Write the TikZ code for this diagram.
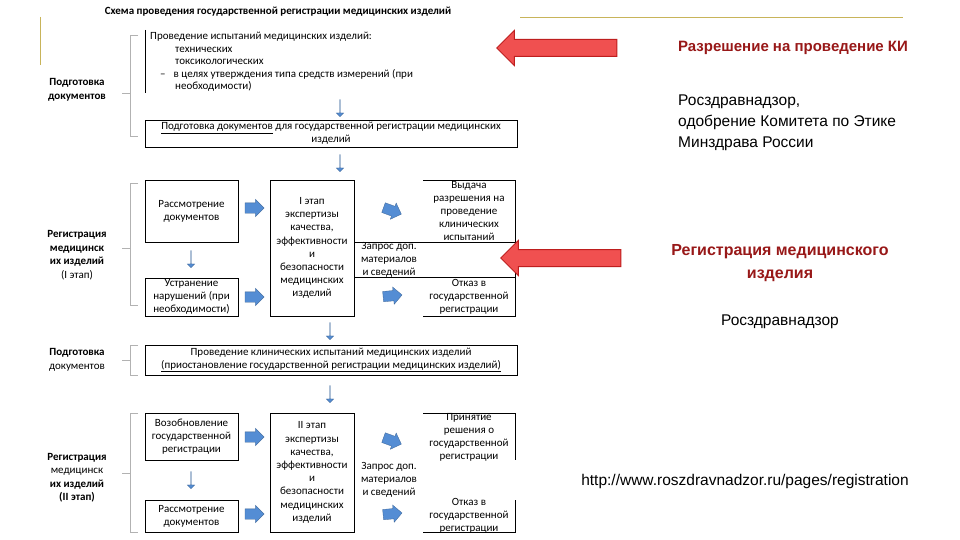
\documentclass[tikz,border=0pt]{standalone}
\usepackage{fontspec}
\setmainfont{Carlito}
\newfontfamily\arial{Liberation Sans}
\usetikzlibrary{shapes.arrows}
\definecolor{gold}{RGB}{200,180,90}
\definecolor{blu}{RGB}{84,141,212}
\definecolor{redf}{RGB}{240,80,80}
\definecolor{redd}{RGB}{190,30,30}
\begin{document}
\begin{tikzpicture}[x=1pt,y=-1pt,
  bx/.style={draw,line width=0.8pt,align=center,font=\fontsize{11}{13.2}\selectfont,inner sep=1pt},
  txt/.style={align=center,font=\fontsize{11}{13}\selectfont},
  lab/.style={align=center,font=\bfseries\fontsize{11}{13.5}\selectfont},
  brace/.style={draw=gray!60,line width=0.6pt},
  dn/.style={fill=blu,draw=blu!70!black,line width=0.3pt,single arrow,shape border rotate=270,single arrow head extend=3.5pt,minimum height=17pt,inner sep=0pt,node contents={\rule{0pt}{10pt}}},
  rt/.style={fill=blu,draw=blu!70!black,line width=0.3pt,single arrow,single arrow head extend=3.5pt,minimum height=19pt,inner sep=0pt,node contents={\rule{0pt}{10pt}}},
  red/.style={fill=redf,draw=redd,line width=1pt,single arrow,shape border rotate=180,single arrow head extend=9pt,minimum height=120pt,inner sep=0pt,node contents={\rule{0pt}{16pt}}}]
\useasboundingbox (0,0) rectangle (960,540);
\fill[white] (0,0) rectangle (960,540);
% gold lines
\draw[gold,line width=1pt] (40,17) -- (40,65);
\draw[gold,line width=1pt] (520,18) -- (903,18);
% title
\node[lab] (title) at (278,12) {Схема проведения государственной регистрации медицинских изделий};
% section 1
\draw[line width=0.8pt] (145,30) -- (145,93);
\node[anchor=north west,font=\fontsize{11}{12.5}\selectfont,align=left,inner sep=0pt] (t1) at (150,32) {Проведение испытаний медицинских изделий:\\
\hspace*{25pt}технических\\ \hspace*{25pt}токсикологических\\ \hspace*{10pt}–\hspace*{8pt}в целях утверждения типа средств измерений (при\\ \hspace*{25pt}необходимости)};
\draw[brace] (138,35) -- (130,35) -- (130,136) -- (138,136) (130,93) -- (122,93);
\node[lab] (l1) at (77,90) {Подготовка\\документов};
\node (a1) at (340,108) [dn];
\node[bx,minimum width=372pt,minimum height=27pt] (b2) at (331,133.5) {\underline{Подготовка документов} для государственной регистрации медицинских\\изделий};
\node (a2) at (340,163) [dn];
% section 2
\draw[brace] (138,183) -- (130,183) -- (130,305) -- (138,305) (130,248) -- (122,248);
\node[lab] (l2) at (77,255) {Регистрация\\медицинск\\их изделий\\\mdseries(I этап)};
\node[bx,minimum width=93pt,minimum height=62pt] (bA) at (191.5,211) {Рассмотрение\\документов};
\node[bx,minimum width=93pt,minimum height=38pt] (bB) at (191.5,297) {Устранение\\нарушений (при\\необходимости)};
\node (a3) at (191,259) [dn];
\node (a4) at (252,208) [rt];
\node (a5) at (252,297) [rt];
\node[bx,minimum width=84pt,minimum height=136pt] (bC) at (312,248) {I этап\\экспертизы\\качества,\\эффективности\\и\\безопасности\\медицинских\\изделий};
\draw[line width=0.8pt] (423,180) -- (515,180) -- (515,316) -- (423,316);
\draw[line width=0.8pt] (354,242) -- (515,242) (354,277) -- (515,277);
\node[txt] (tD) at (469,211) {Выдача\\разрешения на\\проведение\\клинических\\испытаний};
\node[txt] (tQ) at (389,260) {Запрос доп.\\материалов\\и сведений};
\node[txt] (tE) at (469,297) {Отказ в\\государственной\\регистрации};
\node[rotate=-20] (a6) at (390,210) [rt];
\node[rotate=5] (a7) at (390,296) [rt];
\node (a8) at (330,331) [dn];
% section 3
\draw[brace] (138,345) -- (130,345) -- (130,375) -- (138,375) (130,360) -- (122,360);
\node[lab] (l3) at (77,360) {Подготовка\\\mdseries документов};
\node[bx,minimum width=372pt,minimum height=30pt] (b3) at (331,360) {Проведение клинических испытаний медицинских изделий\\\underline{(приостановление государственной регистрации медицинских изделий)}};
\node (a9) at (330,394) [dn];
% section 4
\draw[brace] (138,413) -- (130,413) -- (130,532) -- (138,532) (130,473) -- (122,473);
\node[lab] (l4) at (77,478) {Регистрация\\\mdseries медицинск\\их изделий\\(II этап)};
\node[bx,minimum width=93pt,minimum height=47pt] (bF) at (191.5,436.5) {Возобновление\\государственной\\регистрации};
\node[bx,minimum width=93pt,minimum height=32pt] (bG) at (191.5,516) {Рассмотрение\\документов};
\node (a10) at (191,480) [dn];
\node (a11) at (252,437) [rt];
\node (a12) at (252,514) [rt];
\node[bx,minimum width=84pt,minimum height=119pt] (bH) at (312,472.5) {II этап\\экспертизы\\качества,\\эффективности\\и\\безопасности\\медицинских\\изделий};
\node[txt] (tQ2) at (389,480) {Запрос доп.\\материалов\\и сведений};
\draw[line width=0.8pt] (423,413) -- (515,413) -- (515,460) (423,532) -- (515,532) -- (515,500);
\node[txt] (tI) at (469,437) {Принятие\\решения о\\государственной\\регистрации};
\node[txt] (tJ) at (469,516) {Отказ в\\государственной\\регистрации};
\node[rotate=-20] (a13) at (390,440) [rt];
\node[rotate=5] (a14) at (390,514) [rt];
% right side
\node (r1) at (561,48) [red];
\node (r2) at (565,258) [red];
\node[font=\arial\bfseries\fontsize{15}{18}\selectfont,text=redd!80!black] (k1) at (793,48) {Разрешение на проведение КИ};
\node[font=\arial\fontsize{15.5}{21}\selectfont,align=left,anchor=north west,inner sep=0pt] (k2) at (678,95) {Росздравнадзор,\\одобрение Комитета по Этике\\Минздрава России};
\node[font=\arial\bfseries\fontsize{16}{23}\selectfont,text=redd!80!black,align=center] (k3) at (780,263) {Регистрация медицинского\\изделия};
\node[font=\arial\fontsize{15.5}{18}\selectfont] (k4) at (780,322) {Росздравнадзор};
\node[font=\arial\fontsize{15.5}{18}\selectfont,fill=white,inner sep=2pt] (k5) at (745,481) {http://www.roszdravnadzor.ru/pages/registration};
\end{tikzpicture}
\end{document}
